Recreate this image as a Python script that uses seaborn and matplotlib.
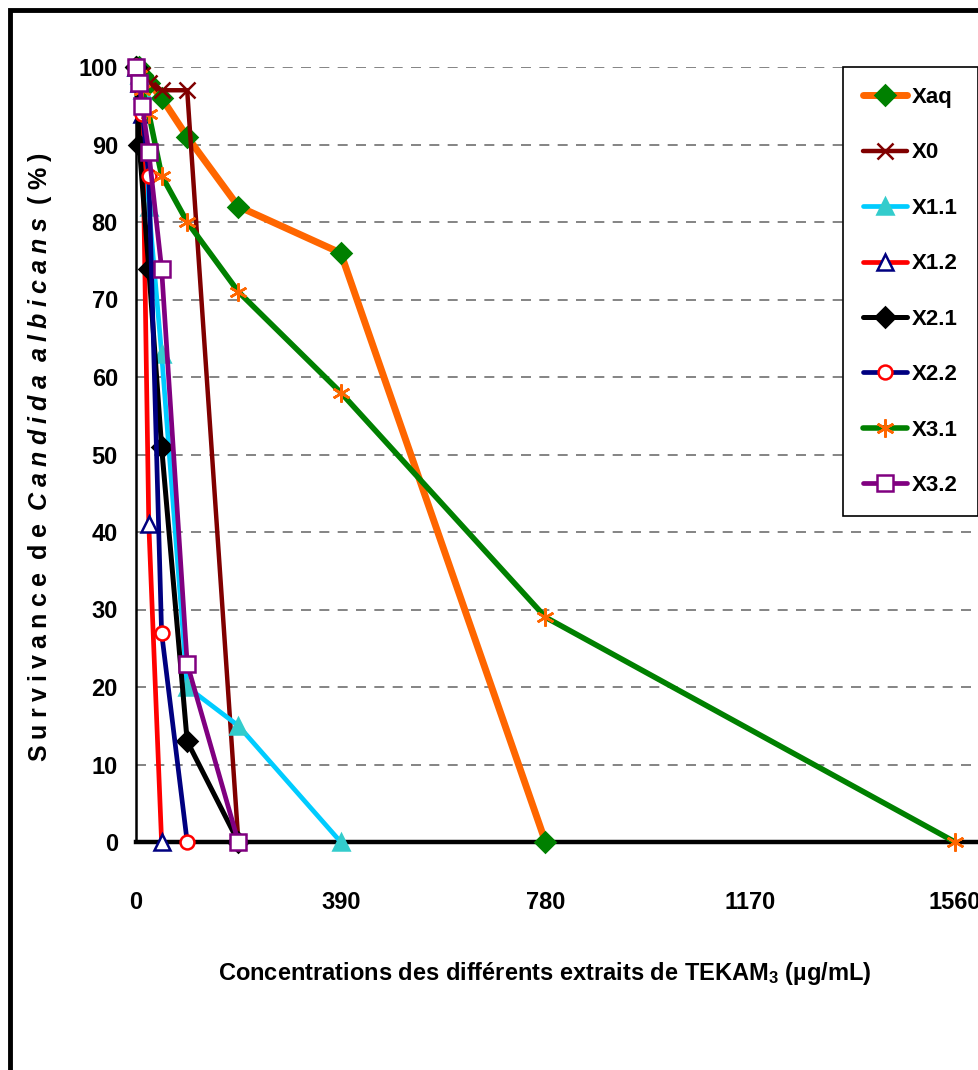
"""
Survivance de Candida albicans vs concentration of TEKAM3 extracts
"""

import numpy as np
import pandas as pd
import seaborn as sns
import matplotlib.pyplot as plt
from matplotlib.patches import Rectangle

# Concentrations (µg/mL)
conc = [0, 6.09, 12.19, 24.38, 48.75, 97.5, 195, 390, 780, 1560]

# Survival (%) per extract, None = no point
xaq = [100, 100, 99, 98, 96, 91, 82, 76, 0, None]
x0 = [100, 99, 99, 98, 97, 97, 0, None, None, None]
x11 = [100, 99, 97, 82, 63, 20, 15, 0, None, None]
x12 = [100, 98, 94, 41, 0, None, None, None, None, None]
x21 = [100, 90, None, 74, 51, 13, 0, None, None, None]
x22 = [100, 98, 94, 86, 27, 0, None, None, None, None]
x31 = [100, 99, 97, 94, 86, 80, 71, 58, 29, 0]
x32 = [100, 98, 95, 89, 74, 23, 0, None, None, None]

names = ["Xaq", "X0", "X1.1", "X1.2", "X2.1", "X2.2", "X3.1", "X3.2"]
values = [xaq, x0, x11, x12, x21, x22, x31, x32]

# style: line colour, marker, marker size, face colour, edge colour, line width
styles = {
    "Xaq": ("#FF6600", "D", 10, "#008000", "#008000", 5.0),
    "X0": ("#800000", "x", 12, "#800000", "#800000", 3.2),
    "X1.1": ("#00CCFF", "^", 12, "#33CCCC", "#33CCCC", 3.4),
    "X1.2": ("#FF0000", "^", 12, "white", "#000080", 3.4),
    "X2.1": ("#000000", "D", 10, "#000000", "#000000", 3.6),
    "X2.2": ("#000080", "o", 10, "white", "#FF0000", 3.4),
    "X3.1": ("#008000", (6, 2, 0), 13, "#FF6600", "#FF6600", 4.0),
    "X3.2": ("#800080", "s", 11, "white", "#800080", 3.4),
}

sns.set_style("white")
plt.rcParams["font.family"] = ["Liberation Sans", "DejaVu Sans"]
plt.rcParams["text.color"] = "black"
plt.rcParams["axes.labelcolor"] = "black"
plt.rcParams["xtick.color"] = "black"
plt.rcParams["ytick.color"] = "black"
plt.rcParams["mathtext.fontset"] = "custom"
plt.rcParams["mathtext.bf"] = "Liberation Sans:bold"
plt.rcParams["mathtext.bfit"] = "Liberation Sans:bold:italic"
plt.rcParams["mathtext.it"] = "Liberation Sans:bold:italic"
plt.rcParams["mathtext.rm"] = "Liberation Sans:bold"

fig = plt.figure(figsize=(9.79, 10.70), dpi=100)
ax = fig.add_axes([136 / 979, 1 - 842 / 1070, 840 / 979, 775 / 1070])

for name, vals in zip(names, values):
    df = pd.DataFrame({"conc": conc, "surv": vals}).dropna()
    lc, mk, ms, fc, ec, lw = styles[name]
    sns.lineplot(data=df, x="conc", y="surv", ax=ax, color=lc, linewidth=lw,
                 marker=mk, markersize=ms, markerfacecolor=fc,
                 markeredgecolor=ec, markeredgewidth=1.8, label=name,
                 sort=False, clip_on=False, zorder=3)

ax.set_xlim(0, 1600)
ax.set_ylim(0, 100)
ax.set_xticks([0, 390, 780, 1170, 1560])
ax.set_yticks(np.arange(0, 101, 10))

for y in range(10, 101, 10):
    ax.axhline(y, color="#707070", lw=1.2, ls=(0, (6, 5)), zorder=1)

for side in ["top", "right"]:
    ax.spines[side].set_visible(False)
ax.spines["left"].set_linewidth(1.8)
ax.spines["left"].set_color("black")
ax.spines["bottom"].set_linewidth(3.2)
ax.spines["bottom"].set_color("black")
ax.spines["bottom"].set_zorder(2)

ax.tick_params(axis="y", direction="out", length=7, width=2.5, pad=6,
               labelsize=17, colors="black")
ax.tick_params(axis="x", direction="out", length=7, width=1.5, pad=28,
               labelsize=17, colors="black")
for lab in ax.get_xticklabels() + ax.get_yticklabels():
    lab.set_fontweight("bold")

ax.set_xlabel("Concentrations des différents extraits de TEKAM$_\\mathbf{3}$ (µg/mL)",
              fontsize=17, fontweight="bold", color="black")
ax.xaxis.set_label_coords(0.487, -0.152)
ax.set_ylabel("")

ylabel = (r"$\mathbf{S\;u\;r\;v\;i\;v\;a\;n\;c\;e\ \;d\;e\ \;}"
          r"\mathbfit{C\;a\;n\;d\;i\;d\;a\ \;a\;l\;b\;i\;c\;a\;n\;s\ \;}"
          r"\mathbf{(\;\%\;)}$")
fig.text(40 / 979, 1 - 457 / 1070, ylabel, rotation=90, ha="center",
         va="center", fontsize=18, color="black")

leg = ax.legend(loc="upper left", bbox_to_anchor=(843 / 979, 1 - 67 / 1070),
                bbox_transform=fig.transFigure, fontsize=16, frameon=True,
                fancybox=False, framealpha=1, edgecolor="black",
                handlelength=2.0, labelspacing=1.55, handletextpad=0.2,
                borderpad=0.9, borderaxespad=0)
leg.get_frame().set_linewidth(1.2)
for t in leg.get_texts():
    t.set_fontweight("bold")
    t.set_color("black")

fig.patches.append(Rectangle((10 / 979, -0.1), 2, 1.1 - 10 / 1070,
                             transform=fig.transFigure, fill=False,
                             edgecolor="black", lw=3.5))

fig.savefig("out.png", dpi=100)
